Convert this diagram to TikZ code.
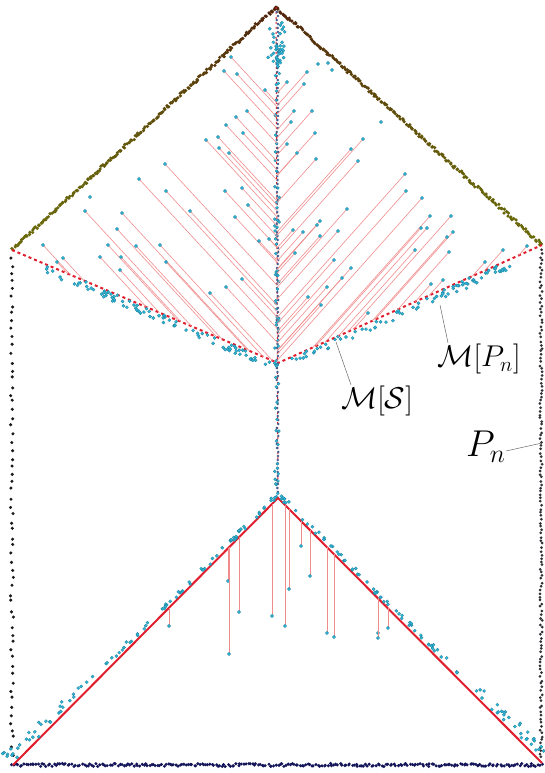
\documentclass[tikz,border=0pt]{standalone}
\usepackage{amsmath,amssymb}
\usepackage{graphicx}
\usepackage{xcolor}
\usepackage{tikz}
\usetikzlibrary{positioning}
\definecolor{roofolive}{RGB}{105,105,10}
\definecolor{roofbrown}{RGB}{80,35,12}
\definecolor{sidegray}{RGB}{25,25,30}
\definecolor{basenavy}{RGB}{22,22,90}
\definecolor{cloudcyan}{RGB}{45,185,220}
\definecolor{projred}{RGB}{240,140,140}
\definecolor{skelred}{RGB}{225,30,45}
\definecolor{axisslate}{RGB}{70,95,140}
\newcommand{\biglabel}[2]{\scalebox{#1}{\huge #2}}

\begin{document}
\begin{tikzpicture}[x=1pt, y=-1pt,
        cydot/.style={fill=cloudcyan, draw=cloudcyan!70!black, line width=0.3pt},
        projline/.style={draw=projred, line width=0.6pt},
        skelS/.style={draw=skelred, line width=2pt, dash pattern=on 3pt off 3pt},
        skelT/.style={draw=skelred, line width=2pt},
        leader/.style={draw=black!60, line width=0.5pt},
        lbl/.style={inner sep=0pt}
    ]
        \useasboundingbox (0,0) rectangle (545,773);
        \pgfmathsetseed{4217}

        % corners of the shape and of the skeleton
        \coordinate (ap) at (276,7);
        \coordinate (lc) at (12,250);
        \coordinate (rc) at (542,245);
        \coordinate (vc) at (278,363);
        \coordinate (ta) at (278,498);
        \coordinate (lb) at (13,765);
        \coordinate (rb) at (542,763);

        % the point cloud P_n: roof, sides, base
        \foreach \i in {0,...,200} {
            \pgfmathsetmacro\tt{\i/200}
            \pgfmathtruncatemacro\pct{100*\tt^1.6}
            \fill[roofbrown!\pct!roofolive] ({12+264*\tt+rand},{250-243*\tt+1.5*rand}) circle (1.8pt);
            \fill[roofbrown!\pct!roofolive] ({542-266*\tt+rand},{245-238*\tt+1.5*rand}) circle (1.8pt);
        }
        \foreach \yy in {258,266,...,760}
            \fill[sidegray] ({12+1.5*rand},{\yy+2*rand}) circle (1.7pt);
        \foreach \yy in {250,253.5,...,760}
            \fill[sidegray!90!white] ({541+1.2*rand},{\yy+rand}) circle (1.5pt);
        \foreach \xx in {12,14,...,542}
            \fill[basenavy] ({\xx+rand},{765+1.5*rand}) circle (1.7pt);

        % skeleton S
        \draw[skelS] (lc) -- (vc) -- (rc);
        \draw[skelT] (lb) -- (ta) -- (rb);
        \draw[skelred, line width=1pt, dash pattern=on 2pt off 3pt] (ap) -- (ta);
        \foreach \yy in {12,16,...,495}
            \fill[axisslate] ({277.5+0.8*rand},\yy) circle (1.4pt);

        % medial points near the skeleton
        \foreach \i in {1,...,40}
            \filldraw[cydot] ({277+9*rand},{22+25*rnd+25*rnd}) circle (1.6pt);
        \foreach \i in {1,...,70}
            \filldraw[cydot] ({277+2.5*rand},{70+430*rnd}) circle (1.5pt);
        \foreach \i in {1,...,90} {
            \pgfmathsetmacro\tt{0.12+0.88*rnd}
            \filldraw[cydot] ({12+266*\tt+2*rand},{250+113*\tt+1+8*rnd}) circle (1.6pt);
        }
        \foreach \i in {1,...,80} {
            \pgfmathsetmacro\tt{0.05+0.85*rnd}
            \filldraw[cydot] ({278+264*\tt+2*rand},{363-118*\tt+1+8*rnd}) circle (1.6pt);
        }
        \foreach \i in {1,...,95} {
            \pgfmathsetmacro\tt{rnd}
            \pgfmathsetmacro\dd{1+4*rnd+12*(1-\tt)^3*rnd}
            \filldraw[cydot] ({13+265*\tt-0.71*\dd},{765-267*\tt-0.70*\dd}) circle (1.6pt);
            \pgfmathsetmacro\ss{rnd}
            \pgfmathsetmacro\ee{1+4*rnd+12*\ss^3*rnd}
            \filldraw[cydot] ({278+264*\ss+0.71*\ee},{498+264*\ss-0.70*\ee}) circle (1.6pt);
        }

        % projections, left roof
        \foreach \px/\py in {231/57, 224/71, 237/74, 265/90, 247/111, 236/117, 226/125,
                243/133, 218/137, 206/140, 219/148, 229/153, 165/164, 139/179, 166/191,
                225/191, 242/188, 190/211, 85/211, 122/213, 235/217, 248/205, 117/229,
                43/245, 108/245, 136/246, 160/245, 100/257, 121/257, 259/241, 269/239,
                166/262, 120/270, 210/293, 226/287, 242/279, 57/262, 63/258} {
            \pgfmathsetmacro\ta{(277-\px)/0.679}
            \pgfmathsetmacro\tb{(250+0.4248*(\px-12)-\py)/0.4466}
            \pgfmathsetmacro\tm{min(\ta,\tb)}
            \draw[projline] (\px,\py) -- ++({0.679*\tm},{0.735*\tm});
            \filldraw[cydot] (\px,\py) circle (1.7pt);
        }
        % projections, right roof
        \foreach \px/\py in {307/72, 304/84, 287/82, 294/111, 312/111, 291/122, 315/133,
                363/139, 287/144, 297/153, 351/149, 316/159, 358/161, 405/174, 406/191,
                422/198, 347/209, 451/216, 430/216, 320/221, 421/228, 427/228, 453/232,
                293/230, 303/232, 317/225, 320/236, 338/231, 447/237, 415/250, 449/252,
                503/250, 527/246, 295/253, 334/260, 351/268, 342/278, 327/287, 308/297,
                321/305, 368/313, 431/284, 443/280, 485/262} {
            \pgfmathsetmacro\ta{(\px-277)/0.6654}
            \pgfmathsetmacro\tb{(363-0.447*(\px-278)-\py)/0.4483}
            \pgfmathsetmacro\tm{min(\ta,\tb)}
            \draw[projline] (\px,\py) -- ++({-0.6654*\tm},{0.7465*\tm});
            \filldraw[cydot] (\px,\py) circle (1.7pt);
        }
        % projections, lower triangle
        \foreach \px/\py in {228/581, 229/654, 239/612, 272/616, 285/626, 289/589,
                301/546, 310/576, 327/633, 334/637, 378/633, 378/638, 388/628, 169/626} {
            \pgfmathsetmacro\ye{\px<278 ? 765-1.0075*(\px-13) : 498+(\px-278)}
            \draw[projline] (\px,\py) -- (\px,\ye);
            \filldraw[cydot] (\px,\py) circle (1.7pt);
        }
        \foreach \px/\py in {381/122, 318/64, 328/63, 332/70, 90/197}
            \filldraw[cydot] (\px,\py) circle (1.7pt);

        % labels
        \node[lbl] (msLabel) at (377,401) {\biglabel{1.45}{$\mathcal{M}[\mathcal{S}]$}};
        \node[lbl] (mpLabel) at (479,359) {\biglabel{1.45}{$\mathcal{M}[P_n]$}};
        \node[lbl] (pnLabel) at (486,447) {\biglabel{1.8}{$P_n$}};
        \coordinate (msTip) at (336,342);
        \coordinate (mpTip) at (440,305);
        \coordinate (pnTip) at (542,443);
        \draw[leader] (msTip) -- ([xshift=-26pt,yshift=1pt]msLabel.north);
        \draw[leader] (mpTip) -- ([xshift=-31pt,yshift=1pt]mpLabel.north);
        \draw[leader] ([yshift=-4pt]pnLabel.east) -- (pnTip);
    \end{tikzpicture}
\end{document}
